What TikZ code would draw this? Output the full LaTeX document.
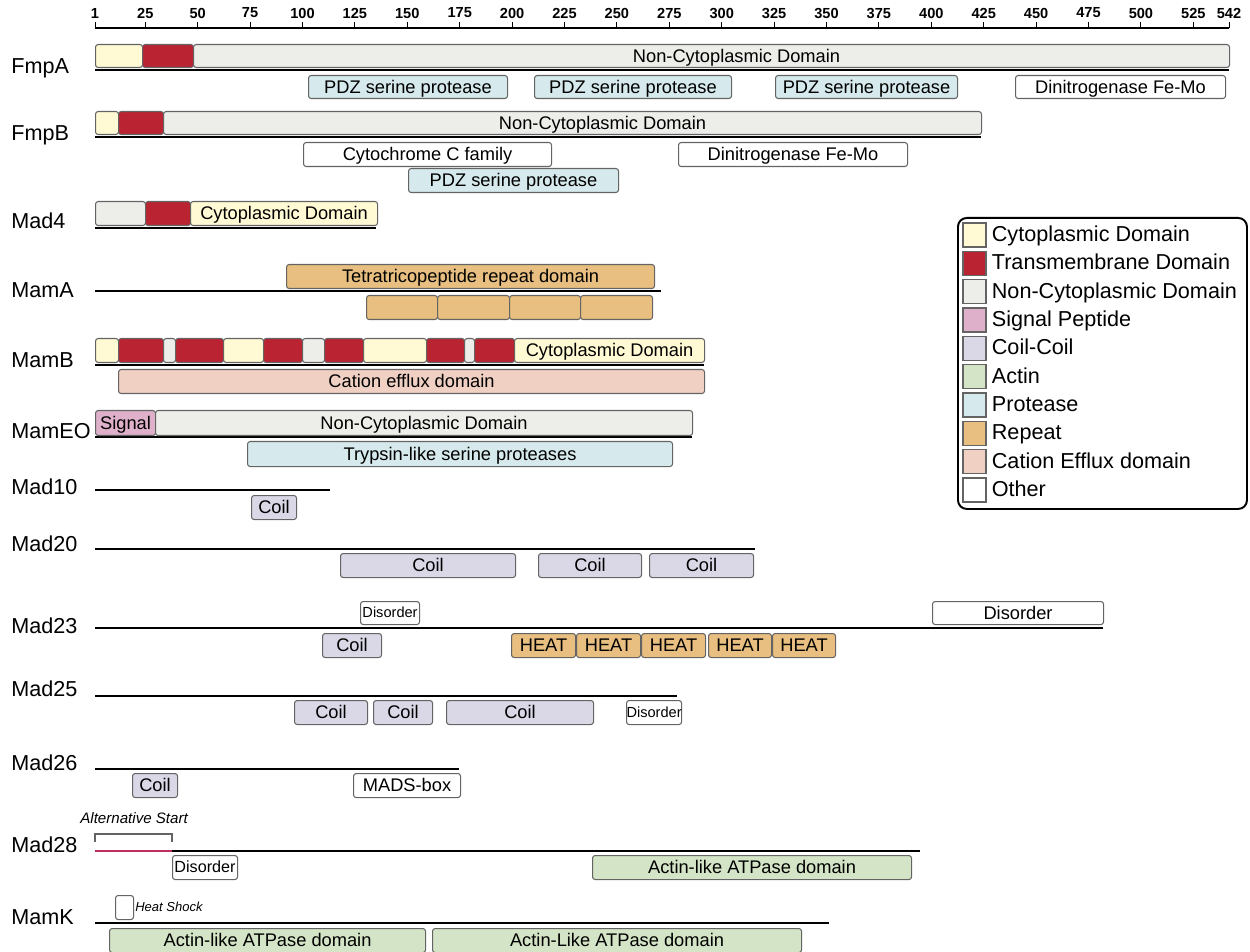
\documentclass[tikz,border=0pt]{standalone}
\usepackage{fontspec}
\setmainfont{Liberation Sans}
\usetikzlibrary{positioning}
\newcommand{\px}{0.02cm}
\definecolor{cCyto}{RGB}{255,250,212}
\definecolor{cTm}{RGB}{185,35,50}
\definecolor{cNon}{RGB}{237,237,233}
\definecolor{cSig}{RGB}{222,176,201}
\definecolor{cCoil}{RGB}{218,216,230}
\definecolor{cActin}{RGB}{212,228,198}
\definecolor{cProt}{RGB}{214,233,236}
\definecolor{cRep}{RGB}{232,191,128}
\definecolor{cCat}{RGB}{240,208,195}
\definecolor{cEdge}{RGB}{100,100,100}
\definecolor{cAlt}{RGB}{190,45,95}
\begin{document}
\begin{tikzpicture}[x=0.02cm,y=-0.02cm]
    \tikzstyle{dom} = [draw=cEdge,line width=0.6pt,rounded corners=1.5pt,inner sep=0pt,anchor=north west,minimum height=24*\px,text height=9pt,text depth=2pt,font=\fontsize{10.4}{12}\selectfont]
    \tikzstyle{sdom} = [dom,text height=7.2pt,text depth=1.8pt,font=\fontsize{8.3}{10}\selectfont]
    \tikzstyle{prot} = [anchor=west,inner sep=0pt,text height=10pt,text depth=2.6pt,font=\fontsize{12.3}{14}\selectfont]
    \tikzstyle{num} = [inner sep=0pt,font=\bfseries\fontsize{8.3}{10}\selectfont]
    \tikzstyle{backbone} = [line width=1.6pt]
    \tikzstyle{key} = [draw=cEdge,line width=0.6pt,inner sep=0pt,minimum width=23*\px,minimum height=24*\px]
    \tikzstyle{keytext} = [anchor=west,inner sep=0pt,text height=10pt,text depth=2.6pt,font=\fontsize{12.3}{14}\selectfont]
    \useasboundingbox (0,0) rectangle (1250,952);
    % residue scale
    \node [num] (n1) at (95,13) {1};
    \node [num] (n25) at (145.3,13) {25};
    \node [num] (n50) at (197.7,13) {50};
    \node [num] (n75) at (250.1,13) {75};
    \node [num] (n100) at (302.5,13) {100};
    \node [num] (n125) at (354.9,13) {125};
    \node [num] (n150) at (407.3,13) {150};
    \node [num] (n175) at (459.7,13) {175};
    \node [num] (n200) at (512.1,13) {200};
    \node [num] (n225) at (564.5,13) {225};
    \node [num] (n250) at (616.9,13) {250};
    \node [num] (n275) at (669.3,13) {275};
    \node [num] (n300) at (721.7,13) {300};
    \node [num] (n325) at (774.1,13) {325};
    \node [num] (n350) at (826.5,13) {350};
    \node [num] (n375) at (878.9,13) {375};
    \node [num] (n400) at (931.3,13) {400};
    \node [num] (n425) at (983.7,13) {425};
    \node [num] (n450) at (1036.1,13) {450};
    \node [num] (n475) at (1088.5,13) {475};
    \node [num] (n500) at (1140.9,13) {500};
    \node [num] (n525) at (1193.3,13) {525};
    \node [num] (n542) at (1229,13) {542};
    \draw [line width=0.5pt] (95,22) -- (95,28) (145.3,22) -- (145.3,28) (197.7,22) -- (197.7,28)
      (250.1,22) -- (250.1,28) (302.5,22) -- (302.5,28) (354.9,22) -- (354.9,28) (407.3,22) -- (407.3,28)
      (459.7,22) -- (459.7,28) (512.1,22) -- (512.1,28) (564.5,22) -- (564.5,28) (616.9,22) -- (616.9,28)
      (669.3,22) -- (669.3,28) (721.7,22) -- (721.7,28) (774.1,22) -- (774.1,28) (826.5,22) -- (826.5,28)
      (878.9,22) -- (878.9,28) (931.3,22) -- (931.3,28) (983.7,22) -- (983.7,28) (1036.1,22) -- (1036.1,28)
      (1088.5,22) -- (1088.5,28) (1140.9,22) -- (1140.9,28) (1193.3,22) -- (1193.3,28) (1229,22) -- (1229,28);
    \draw [line width=1.6pt] (95,28) -- (1229,28);
    % protein names
    \node [prot] (pFmpA) at (11,67) {FmpA};
    \node [prot] (pFmpB) at (11,134) {FmpB};
    \node [prot] (pMad4) at (11,222) {Mad4};
    \node [prot] (pMamA) at (11,291) {MamA};
    \node [prot] (pMamB) at (11,361) {MamB};
    \node [prot] (pMamEO) at (11,432) {MamEO};
    \node [prot] (pMad10) at (11,488) {Mad10};
    \node [prot] (pMad20) at (11,545) {Mad20};
    \node [prot] (pMad23) at (11,627) {Mad23};
    \node [prot] (pMad25) at (11,690) {Mad25};
    \node [prot] (pMad26) at (11,764) {Mad26};
    \node [prot] (pMad28) at (11,846) {Mad28};
    \node [prot] (pMamK) at (11,918) {MamK};
    % FmpA
    \draw [backbone] (95,70) -- (1229,70);
    \node [dom,fill=cCyto,minimum width=47*\px,minimum height=23*\px] (fmpa1) at (95,44) {};
    \node [dom,fill=cTm,minimum width=51*\px,minimum height=23*\px] (fmpa2) at (142,44) {};
    \node [dom,fill=cNon,minimum width=1036*\px,minimum height=23*\px,
      label={[inner sep=0pt,xshift=25*\px,text height=9pt,text depth=2pt,font=\fontsize{10.4}{12}\selectfont]center:Non-Cytoplasmic Domain}] (fmpa3) at (193,44) {};
    \node [dom,fill=cProt,minimum width=199*\px,minimum height=23*\px] (fmpa4) at (308,75) {PDZ serine protease};
    \node [dom,fill=cProt,minimum width=197*\px,minimum height=23*\px] (fmpa5) at (534,75) {PDZ serine protease};
    \node [dom,fill=cProt,minimum width=182*\px,minimum height=23*\px] (fmpa6) at (775,75) {PDZ serine protease};
    \node [dom,fill=white,minimum width=210*\px,minimum height=23*\px] (fmpa7) at (1015,75) {Dinitrogenase Fe-Mo};
    % FmpB
    \draw [backbone] (95,137) -- (981,137);
    \node [dom,fill=cCyto,minimum width=23*\px,minimum height=23*\px] (fmpb1) at (95,111) {};
    \node [dom,fill=cTm,minimum width=45*\px,minimum height=23*\px] (fmpb2) at (118,111) {};
    \node [dom,fill=cNon,minimum width=818*\px,minimum height=23*\px,
      label={[inner sep=0pt,xshift=30*\px,text height=9pt,text depth=2pt,font=\fontsize{10.4}{12}\selectfont]center:Non-Cytoplasmic Domain}] (fmpb3) at (163,111) {};
    \node [dom,fill=white,minimum width=248*\px] (fmpb4) at (303,142) {Cytochrome C family};
    \node [dom,fill=white,minimum width=229*\px] (fmpb5) at (678,142) {Dinitrogenase Fe-Mo};
    \node [dom,fill=cProt,minimum width=210*\px] (fmpb6) at (408,168) {PDZ serine protease};
    % Mad4
    \draw [backbone] (95,228) -- (376,228);
    \node [dom,fill=cNon,minimum width=50*\px] (mad4a) at (95,201) {};
    \node [dom,fill=cTm,minimum width=45*\px] (mad4b) at (145,201) {};
    \node [dom,fill=cCyto,minimum width=187*\px] (mad4c) at (190,201) {Cytoplasmic Domain};
    % MamA
    \draw [backbone] (95,291) -- (661,291);
    \node [dom,fill=cRep,minimum width=368*\px] (mama1) at (286,264) {Tetratricopeptide repeat domain};
    \node [dom,fill=cRep,minimum width=71*\px] (mama2) at (366,295) {};
    \node [dom,fill=cRep,minimum width=72*\px] (mama3) at (437,295) {};
    \node [dom,fill=cRep,minimum width=71*\px] (mama4) at (509,295) {};
    \node [dom,fill=cRep,minimum width=72*\px] (mama5) at (580,295) {};
    % MamB
    \draw [backbone] (95,365) -- (704,365);
    \node [dom,fill=cCyto,minimum width=23*\px] (mamb1) at (95,338) {};
    \node [dom,fill=cTm,minimum width=45*\px] (mamb2) at (118,338) {};
    \node [dom,fill=cNon,minimum width=12*\px] (mamb3) at (163,338) {};
    \node [dom,fill=cTm,minimum width=48*\px] (mamb4) at (175,338) {};
    \node [dom,fill=cCyto,minimum width=40*\px] (mamb5) at (223,338) {};
    \node [dom,fill=cTm,minimum width=39*\px] (mamb6) at (263,338) {};
    \node [dom,fill=cNon,minimum width=22*\px] (mamb7) at (302,338) {};
    \node [dom,fill=cTm,minimum width=39*\px] (mamb8) at (324,338) {};
    \node [dom,fill=cCyto,minimum width=63*\px] (mamb9) at (363,338) {};
    \node [dom,fill=cTm,minimum width=38*\px] (mamb10) at (426,338) {};
    \node [dom,fill=cNon,minimum width=10*\px] (mamb11) at (464,338) {};
    \node [dom,fill=cTm,minimum width=40*\px] (mamb12) at (474,338) {};
    \node [dom,fill=cCyto,minimum width=190*\px] (mamb13) at (514,338) {Cytoplasmic Domain};
    \node [dom,fill=cCat,minimum width=586*\px] (mamb14) at (118,369) {Cation efflux domain};
    % MamEO
    \draw [backbone] (95,437) -- (692,437);
    \node [dom,fill=cSig,minimum width=60*\px,minimum height=25*\px] (mameo1) at (95,410) {Signal};
    \node [dom,fill=cNon,minimum width=537*\px,minimum height=25*\px] (mameo2) at (155,410) {Non-Cytoplasmic Domain};
    \node [dom,fill=cProt,minimum width=425*\px,minimum height=25*\px] (mameo3) at (247,441) {Trypsin-like serine proteases};
    % Mad10
    \draw [backbone] (95,490) -- (330,490);
    \node [dom,fill=cCoil,minimum width=45*\px] (mad10a) at (251,495) {Coil};
    % Mad20
    \draw [backbone] (95,549) -- (755,549);
    \node [dom,fill=cCoil,minimum width=175*\px] (mad20a) at (340,553) {Coil};
    \node [dom,fill=cCoil,minimum width=103*\px] (mad20b) at (538,553) {Coil};
    \node [dom,fill=cCoil,minimum width=104*\px] (mad20c) at (649,553) {Coil};
    % Mad23
    \draw [backbone] (95,628) -- (1103,628);
    \node [sdom,fill=white,minimum width=59*\px,minimum height=23*\px] (mad23a) at (360,601) {Disorder};
    \node [dom,fill=white,minimum width=171*\px,minimum height=23*\px] (mad23b) at (932,601) {Disorder};
    \node [dom,fill=cCoil,minimum width=59*\px] (mad23c) at (322,633) {Coil};
    \node [dom,fill=cRep,minimum width=64*\px] (mad23d) at (511,633) {HEAT};
    \node [dom,fill=cRep,minimum width=64*\px] (mad23e) at (576,633) {HEAT};
    \node [dom,fill=cRep,minimum width=64*\px] (mad23f) at (641,633) {HEAT};
    \node [dom,fill=cRep,minimum width=63*\px] (mad23g) at (708,633) {HEAT};
    \node [dom,fill=cRep,minimum width=63*\px] (mad23h) at (772,633) {HEAT};
    % Mad25
    \draw [backbone] (95,696) -- (677,696);
    \node [dom,fill=cCoil,minimum width=73*\px] (mad25a) at (294,700) {Coil};
    \node [dom,fill=cCoil,minimum width=59*\px] (mad25b) at (373,700) {Coil};
    \node [dom,fill=cCoil,minimum width=147*\px] (mad25c) at (446,700) {Coil};
    \node [sdom,fill=white,minimum width=51*\px] (mad25d) at (626,700) {Disorder};
    % Mad26
    \draw [backbone] (95,769) -- (459,769);
    \node [dom,fill=cCoil,minimum width=45*\px] (mad26a) at (132,773) {Coil};
    \node [dom,fill=white,minimum width=107*\px] (mad26b) at (353,773) {MADS-box};
    % Mad28
    \node [anchor=west,inner sep=0pt,font=\itshape\fontsize{8.6}{10}\selectfont] (alt) at (80,818) {Alternative Start};
    \draw [cEdge,line width=0.6pt] (95,842) -- (95,834) -- (172,834) -- (172,842);
    \draw [backbone] (172,851) -- (920,851);
    \draw [backbone,cAlt] (95,851) -- (172,851);
    \node [dom,fill=white,minimum width=65*\px,text height=8pt,text depth=1.9pt,font=\fontsize{9.2}{11}\selectfont] (mad28a) at (172,855) {Disorder};
    \node [dom,fill=cActin,minimum width=319*\px] (mad28b) at (592,855) {Actin-like ATPase domain};
    % MamK
    \node [dom,fill=white,minimum width=18*\px] (mamk0) at (115,895) {};
    \node [anchor=west,inner sep=0pt,font=\itshape\fontsize{7.4}{9}\selectfont] (hs) at (135,907) {Heat Shock};
    \draw [backbone] (95,923) -- (829,923);
    \node [dom,fill=cActin,minimum width=316*\px] (mamk1) at (109,928) {Actin-like ATPase domain};
    \node [dom,fill=cActin,minimum width=369*\px] (mamk2) at (432,928) {Actin-Like ATPase domain};
    % legend
    \node [draw,line width=1.1pt,rounded corners=5pt,anchor=north west,minimum width=289*\px,minimum height=291*\px] (legend) at (957,217) {};
    \node [key,fill=cCyto] (k1) at (974.5,235) {};
    \node [key,fill=cTm] (k2) at (974.5,263.3) {};
    \node [key,fill=cNon] (k3) at (974.5,291.7) {};
    \node [key,fill=cSig] (k4) at (974.5,320) {};
    \node [key,fill=cCoil] (k5) at (974.5,348.3) {};
    \node [key,fill=cActin] (k6) at (974.5,376.7) {};
    \node [key,fill=cProt] (k7) at (974.5,405) {};
    \node [key,fill=cRep] (k8) at (974.5,433.3) {};
    \node [key,fill=cCat] (k9) at (974.5,461.7) {};
    \node [key,fill=white] (k10) at (974.5,490) {};
    \node [keytext,right=5*\px of k1] (t1) {Cytoplasmic Domain};
    \node [keytext,right=5*\px of k2] (t2) {Transmembrane Domain};
    \node [keytext,right=5*\px of k3] (t3) {Non-Cytoplasmic Domain};
    \node [keytext,right=5*\px of k4] (t4) {Signal Peptide};
    \node [keytext,right=5*\px of k5] (t5) {Coil-Coil};
    \node [keytext,right=5*\px of k6] (t6) {Actin};
    \node [keytext,right=5*\px of k7] (t7) {Protease};
    \node [keytext,right=5*\px of k8] (t8) {Repeat};
    \node [keytext,right=5*\px of k9] (t9) {Cation Efflux domain};
    \node [keytext,right=5*\px of k10] (t10) {Other};
\end{tikzpicture}
\end{document}
